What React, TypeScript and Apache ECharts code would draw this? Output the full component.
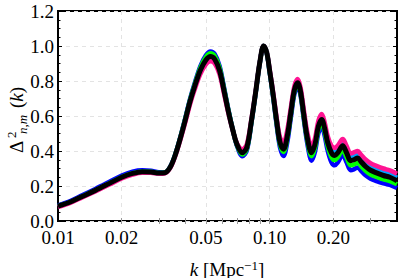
import React, { useEffect, useRef } from "react";
import * as echarts from "echarts";

// wavenumbers k [Mpc^-1]
const K = [0.010, 0.0115, 0.013, 0.015, 0.0175, 0.020, 0.0225, 0.025, 0.0275, 0.030, 0.032, 0.034, 0.036, 0.038, 0.040, 0.042, 0.044, 0.047, 0.050, 0.0525, 0.055, 0.058, 0.061, 0.064, 0.067, 0.070, 0.0743, 0.078, 0.082, 0.086, 0.090, 0.0937, 0.097, 0.100, 0.104, 0.108, 0.112, 0.1164, 0.121, 0.126, 0.131, 0.1358, 0.140, 0.145, 0.151, 0.158, 0.164, 0.170, 0.1763, 0.182, 0.188, 0.196, 0.2032, 0.210, 0.2216, 0.231, 0.2416, 0.250, 0.2606, 0.270, 0.285, 0.300, 0.320, 0.345, 0.370, 0.400];

const BLACK = [0.085, 0.11, 0.14, 0.175, 0.215, 0.25, 0.272, 0.282, 0.28, 0.274, 0.276, 0.31, 0.385, 0.48, 0.58, 0.68, 0.76, 0.86, 0.92, 0.94, 0.925, 0.86, 0.74, 0.62, 0.52, 0.44, 0.39, 0.42, 0.57, 0.74, 0.91, 1.0, 0.96, 0.86, 0.72, 0.57, 0.45, 0.41, 0.48, 0.62, 0.75, 0.79, 0.74, 0.61, 0.47, 0.39, 0.44, 0.54, 0.58, 0.53, 0.45, 0.39, 0.375, 0.39, 0.43, 0.39, 0.345, 0.35, 0.36, 0.34, 0.31, 0.29, 0.275, 0.26, 0.25, 0.23];
const BLUE = [0.089, 0.116, 0.147, 0.183, 0.224, 0.26, 0.282, 0.29, 0.287, 0.279, 0.279, 0.313, 0.389, 0.487, 0.591, 0.694, 0.777, 0.883, 0.947, 0.969, 0.954, 0.886, 0.759, 0.631, 0.521, 0.432, 0.37, 0.402, 0.558, 0.735, 0.908, 1.0, 0.958, 0.852, 0.705, 0.548, 0.42, 0.372, 0.445, 0.59, 0.725, 0.77, 0.718, 0.583, 0.437, 0.345, 0.398, 0.5, 0.54, 0.488, 0.404, 0.336, 0.318, 0.335, 0.378, 0.336, 0.29, 0.295, 0.306, 0.288, 0.26, 0.242, 0.228, 0.215, 0.206, 0.188];
const GREEN = [0.085, 0.11, 0.14, 0.176, 0.216, 0.251, 0.273, 0.283, 0.281, 0.275, 0.277, 0.311, 0.387, 0.484, 0.586, 0.688, 0.77, 0.874, 0.937, 0.958, 0.943, 0.876, 0.752, 0.627, 0.521, 0.436, 0.38, 0.41, 0.564, 0.738, 0.909, 1.0, 0.959, 0.856, 0.713, 0.56, 0.437, 0.395, 0.466, 0.608, 0.74, 0.781, 0.73, 0.598, 0.455, 0.37, 0.42, 0.522, 0.561, 0.51, 0.428, 0.365, 0.348, 0.364, 0.405, 0.364, 0.318, 0.323, 0.334, 0.314, 0.285, 0.266, 0.252, 0.238, 0.228, 0.21];
const CYAN = [0.085, 0.11, 0.14, 0.175, 0.215, 0.25, 0.272, 0.282, 0.28, 0.274, 0.276, 0.31, 0.385, 0.48, 0.58, 0.68, 0.76, 0.86, 0.92, 0.94, 0.925, 0.86, 0.74, 0.62, 0.52, 0.44, 0.39, 0.42, 0.57, 0.74, 0.91, 1.0, 0.96, 0.862, 0.723, 0.575, 0.457, 0.42, 0.49, 0.628, 0.756, 0.796, 0.747, 0.618, 0.48, 0.402, 0.452, 0.552, 0.593, 0.543, 0.464, 0.405, 0.392, 0.406, 0.447, 0.408, 0.364, 0.369, 0.378, 0.358, 0.328, 0.308, 0.293, 0.278, 0.268, 0.248];
const MAGENTA = [0.08, 0.105, 0.134, 0.169, 0.208, 0.243, 0.265, 0.276, 0.275, 0.27, 0.273, 0.305, 0.378, 0.47, 0.566, 0.663, 0.742, 0.838, 0.895, 0.913, 0.9, 0.838, 0.723, 0.61, 0.518, 0.446, 0.41, 0.438, 0.58, 0.745, 0.912, 1.0, 0.962, 0.868, 0.733, 0.59, 0.478, 0.45, 0.515, 0.648, 0.772, 0.812, 0.764, 0.638, 0.502, 0.425, 0.474, 0.572, 0.612, 0.564, 0.486, 0.43, 0.418, 0.432, 0.468, 0.43, 0.386, 0.392, 0.4, 0.38, 0.35, 0.33, 0.315, 0.3, 0.289, 0.27];

const X_LABELS = [0.01, 0.02, 0.05, 0.1, 0.2];
const X_GRID = [0.02, 0.05, 0.1, 0.2];
const X_TICKS = [0.02, 0.03, 0.04, 0.05, 0.06, 0.07, 0.08, 0.09, 0.1, 0.2, 0.3];
const K_MIN = 0.01;
const K_MAX = 0.4;
const Y_MIN = 0;
const Y_MAX = 1.2;
const Y_STEP = 0.2;

const SERIES = [
  { name: "blue", color: "#0000ff", values: BLUE },
  { name: "green", color: "#00ff00", values: GREEN },
  { name: "cyan", color: "#00a0ff", values: CYAN },
  { name: "magenta", color: "#ff1493", values: MAGENTA },
  { name: "black", color: "#000000", values: BLACK },
];

const FONT = '"Liberation Serif", "Times New Roman", serif';

export default function App() {
  const ref = useRef<HTMLDivElement>(null);
  useEffect(() => {
    if (!ref.current) return;
    const chart = echarts.init(ref.current, null, { renderer: "svg" });
    const lg = (v: number) => Math.log10(v);
    const xBase = {
      type: "value",
      min: lg(K_MIN),
      max: lg(K_MAX),
      axisLine: { show: false },
      splitLine: { show: false },
    };
    chart.setOption({
      animation: false,
      backgroundColor: "#fff",
      grid: {
        left: 58,
        right: 2,
        top: 11,
        bottom: 57,
        show: true,
        borderColor: "#000",
        borderWidth: 2,
        backgroundColor: "transparent",
      },
      xAxis: [
        {
          ...xBase,
          position: "bottom",
          axisTick: {
            show: true,
            inside: true,
            length: 3,
            customValues: X_TICKS.map(lg),
            lineStyle: { color: "#999" },
          },
          axisLabel: {
            show: true,
            customValues: X_LABELS.map(lg),
            formatter: (v: number) => Math.pow(10, v).toFixed(2),
            fontFamily: FONT,
            fontSize: 19,
            lineHeight: 14,
            color: "#000",
            margin: 9,
          },
        },
        {
          ...xBase,
          position: "top",
          axisTick: {
            show: true,
            inside: true,
            length: 3,
            customValues: X_TICKS.map(lg),
            lineStyle: { color: "#999" },
          },
          axisLabel: { show: false },
        },
        {
          ...xBase,
          position: "bottom",
          axisTick: { show: false, customValues: X_GRID.map(lg) },
          axisLabel: { show: false },
          splitLine: {
            show: true,
            lineStyle: { color: "#e3e3e3", type: [4, 4], width: 1 },
          },
        },
      ],
      yAxis: [
        {
          type: "value",
          min: Y_MIN,
          max: Y_MAX,
          interval: Y_STEP,
          position: "left",
          axisLine: { show: false },
          axisTick: { show: true, inside: true, length: 4, lineStyle: { color: "#000", width: 1 } },
          minorTick: { show: true, splitNumber: 4, length: 2.5, lineStyle: { color: "#000", width: 1 } },
          axisLabel: {
            formatter: (v: number) => v.toFixed(1),
            fontFamily: FONT,
            fontSize: 19,
            lineHeight: 14,
            color: "#000",
            margin: 4,
          },
          splitLine: { show: true, lineStyle: { color: "#e3e3e3", type: [4, 4], width: 1 } },
        },
        {
          type: "value",
          min: Y_MIN,
          max: Y_MAX,
          interval: Y_STEP,
          position: "right",
          axisLine: { show: false },
          axisTick: { show: true, inside: true, length: 4, lineStyle: { color: "#000", width: 1 } },
          minorTick: { show: true, splitNumber: 4, length: 2.5, lineStyle: { color: "#000", width: 1 } },
          axisLabel: { show: false },
          splitLine: { show: false },
        },
      ],
      series: SERIES.map((s) => ({
        name: s.name,
        type: "line",
        xAxisIndex: 0,
        yAxisIndex: 0,
        showSymbol: false,
        smooth: 0.35,
        data: K.map((k, i) => [lg(k), s.values[i]]),
        lineStyle: { color: s.color, width: s.name === "black" ? 5 : 4.5 },
        itemStyle: { color: s.color },
      })),
      graphic: [
        {
          type: "text",
          x: 227,
          y: 269,
          style: {
            text: "{i|k}{r| [Mpc}{s|−1}{r|]}",
            align: "center",
            verticalAlign: "middle",
            fill: "#000",
            font: `19px ${FONT}`,
            rich: {
              i: { fontFamily: FONT, fontSize: 19, fontStyle: "italic", lineHeight: 20 },
              r: { fontFamily: FONT, fontSize: 19, lineHeight: 20 },
              s: { fontFamily: FONT, fontSize: 13, lineHeight: 13, verticalAlign: "top" },
            },
          },
        },
        {
          type: "group",
          x: 23,
          y: 153,
          rotation: Math.PI / 2,
          children: [
            {
              type: "text",
              x: 0,
              y: -6.6,
              style: { text: "Δ", font: `19px ${FONT}`, fill: "#000", align: "left", verticalAlign: "middle" },
            },
            {
              type: "text",
              x: 15,
              y: -11.5,
              style: { text: "2", font: `13px ${FONT}`, fill: "#000", align: "left", verticalAlign: "middle" },
            },
            {
              type: "text",
              x: 19,
              y: -0.5,
              style: { text: "n,m", font: `italic 13px ${FONT}`, fill: "#000", align: "left", verticalAlign: "middle" },
            },
            {
              type: "text",
              x: 45,
              y: -6.6,
              style: {
                text: "{r|(}{i|k}{r|)}",
                font: `19px ${FONT}`,
                fill: "#000",
                align: "left",
                verticalAlign: "middle",
                rich: {
                  r: { fontFamily: FONT, fontSize: 19 },
                  i: { fontFamily: FONT, fontSize: 19, fontStyle: "italic" },
                },
              },
            },
          ],
        },
      ],
    });
    return () => chart.dispose();
  }, []);
  return (
    <div
      ref={ref}
      style={{ position: "fixed", left: 0, top: 0, width: 399, height: 278, background: "#fff" }}
    />
  );
}
